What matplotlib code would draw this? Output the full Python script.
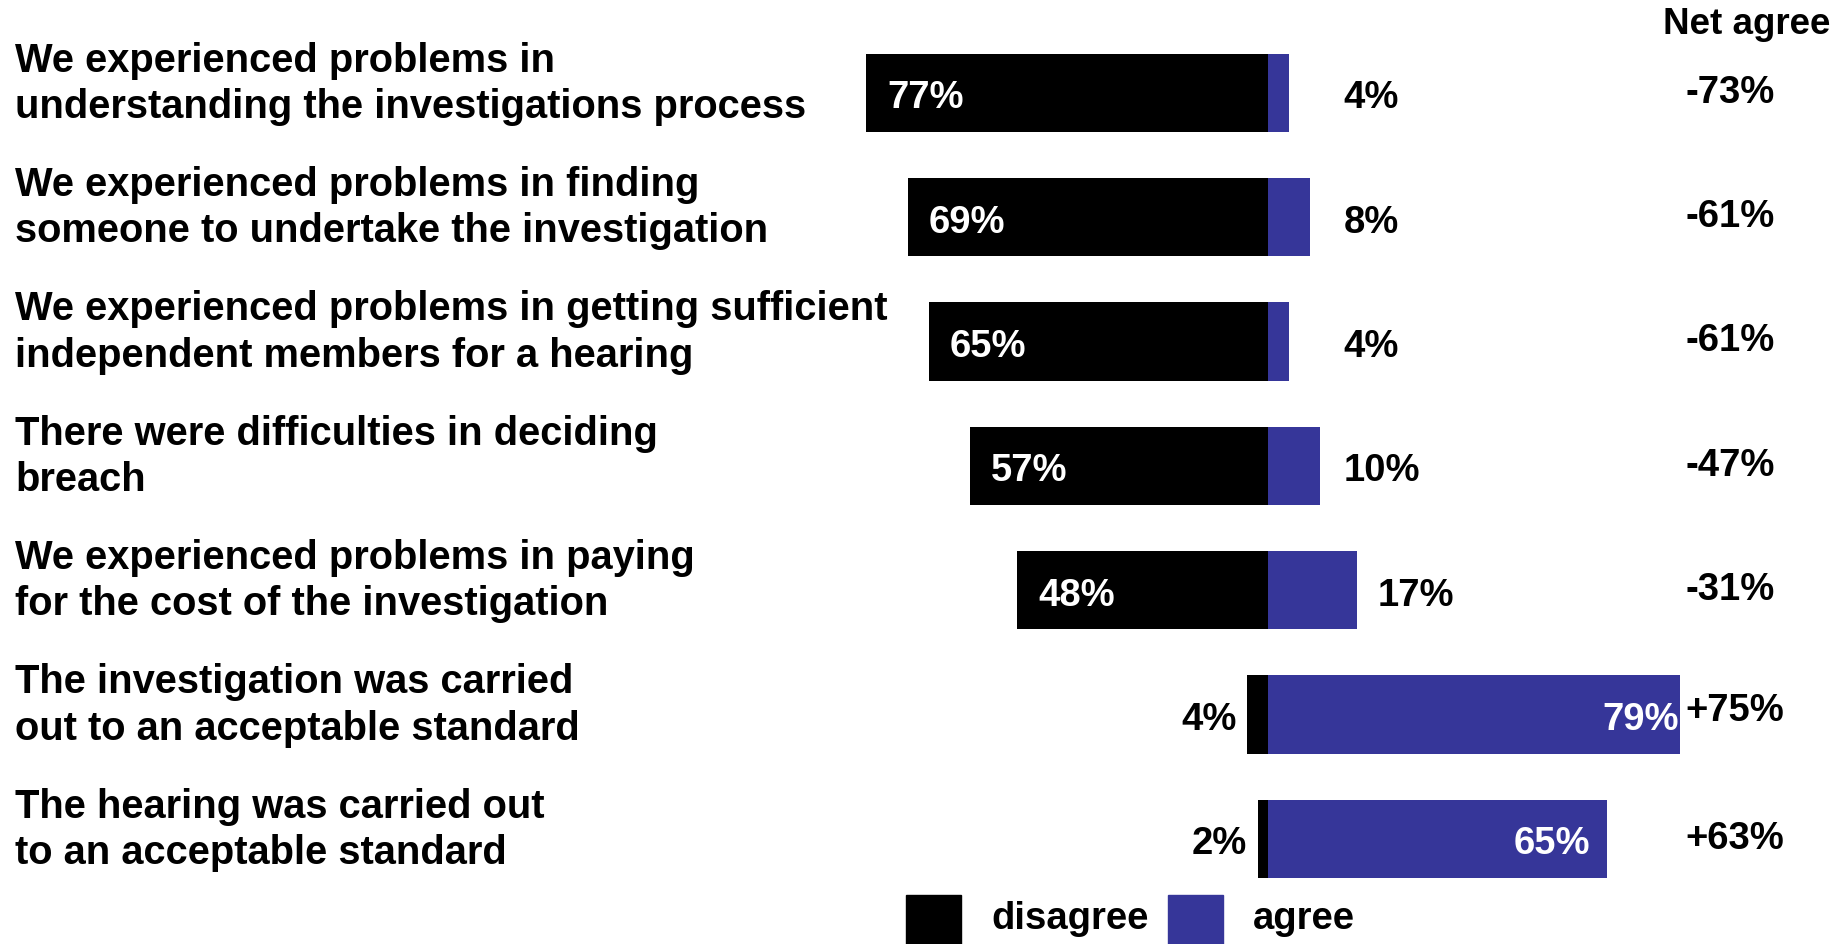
import matplotlib.pyplot as plt
from matplotlib.patches import Rectangle

plt.rcParams['font.family'] = ['Liberation Sans', 'DejaVu Sans']
plt.rcParams['font.weight'] = 'bold'

statements = [
    "We experienced problems in\nunderstanding the investigations process",
    "We experienced problems in finding\nsomeone to undertake the investigation",
    "We experienced problems in getting sufficient\nindependent members for a hearing",
    "There were difficulties in deciding\nbreach",
    "We experienced problems in paying\nfor the cost of the investigation",
    "The investigation was carried\nout to an acceptable standard",
    "The hearing was carried out\nto an acceptable standard",
]
disagree = [77, 69, 65, 57, 48, 4, 2]
agree = [4, 8, 4, 10, 17, 79, 65]
net_agree = ["-73%", "-61%", "-61%", "-47%", "-31%", "+75%", "+63%"]

BLACK = '#000000'
BLUE = '#363699'
FS = 27.5        # numbers
FS_LABEL = 28.7  # statements

W, H = 1837, 945
fig = plt.figure(figsize=(W / 100, H / 100), dpi=100)
ax = fig.add_axes([0, 0, 1, 1])

# pixel mapping: zero line at x=1268 px, 5.22 px per percent; rows 124 px apart
zero_px, px_per = 1268, 5.22
ax.set_xlim(-zero_px / px_per, (W - zero_px) / px_per)
row0, row_px = 94, 124.3
ax.set_ylim((H - row0) / row_px, -row0 / row_px)
ax.axis('off')

ys = list(range(len(statements)))
ax.barh(ys, [-d for d in disagree], height=0.63, color=BLACK, edgecolor='none')
ax.barh(ys, agree, height=0.63, color=BLUE, edgecolor='none')

dy = 0.035  # numbers sit slightly below the bar centre
for y, text, d, a, n in zip(ys, statements, disagree, agree, net_agree):
    fig.text(15 / W, 1 - (row0 + y * row_px - 10) / H, text, fontsize=FS_LABEL,
             ha='left', va='center', linespacing=1.28)
    if d > a:
        ax.text(-d + 4, y + dy, f"{d}%", color='white', fontsize=FS,
                ha='left', va='center')
        ax.text(max(a + 4, 14.5), y + dy, f"{a}%", color='black', fontsize=FS,
                ha='left', va='center')
    else:
        ax.text(-d - 2, y + dy, f"{d}%", color='black', fontsize=FS,
                ha='right', va='center')
        ax.text(a - (0.2 if a > 75 else 3.2), y + dy, f"{a}%", color='white',
                fontsize=FS, ha='right', va='center')
    ax.text(80, y - (0.04 if n.startswith('+') and a > 70 else 0.01), n,
            color='black', fontsize=FS, ha='left', va='center')

fig.text(1747 / W, 1 - 24 / H, "Net agree", fontsize=26.5, ha='center', va='center')

# legend
for x0, label, col in [(906, "disagree", BLACK), (1168, "agree", BLUE)]:
    fig.patches.append(Rectangle((x0 / W, 0), 55 / W, 49 / H, color=col,
                                 transform=fig.transFigure))
    fig.text((x0 + 85) / W, 1 - 919 / H, label, fontsize=FS,
             ha='left', va='center')

fig.savefig('out.png', dpi=100)
